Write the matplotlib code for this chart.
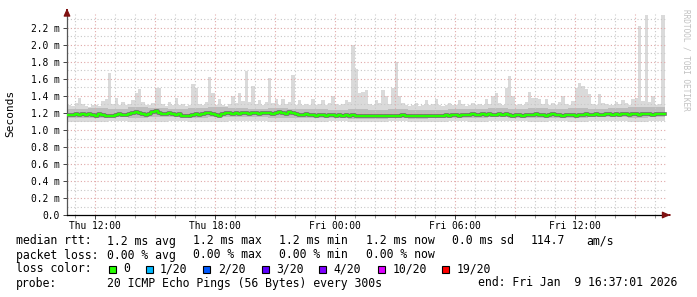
import datetime as dt

import matplotlib
matplotlib.use("Agg")
import matplotlib.dates as mdates
import matplotlib.pyplot as plt
import numpy as np
from matplotlib.patches import Rectangle

# 10 minute bins, Thu 8 Jan 2026 10:40 .. Fri 9 Jan 2026 16:20
start = dt.datetime(2026, 1, 8, 10, 40)
t_begin = dt.datetime(2026, 1, 8, 10, 37, 1)
t_end = dt.datetime(2026, 1, 9, 16, 37, 1)

# highest ping of each bin (ms)
rtt_max = [
    1.30, 1.28, 1.32, 1.38, 1.31, 1.28,
    1.27, 1.29, 1.30, 1.28, 1.34, 1.36,
    1.67, 1.31, 1.38, 1.29, 1.33, 1.30,
    1.31, 1.35, 1.44, 1.48, 1.33, 1.29,
    1.30, 1.32, 1.50, 1.49, 1.31, 1.28,
    1.33, 1.30, 1.38, 1.29, 1.31, 1.28,
    1.30, 1.54, 1.50, 1.31, 1.29, 1.33,
    1.62, 1.44, 1.30, 1.37, 1.29, 1.28,
    1.31, 1.40, 1.32, 1.43, 1.34, 1.69,
    1.33, 1.52, 1.31, 1.35, 1.30, 1.33,
    1.61, 1.32, 1.36, 1.30, 1.37, 1.31,
    1.33, 1.65, 1.30, 1.35, 1.29, 1.31,
    1.30, 1.36, 1.29, 1.31, 1.35, 1.30,
    1.32, 1.40, 1.31, 1.29, 1.31, 1.35,
    1.33, 2.00, 1.72, 1.43, 1.45, 1.47,
    1.31, 1.30, 1.35, 1.32, 1.47, 1.40,
    1.31, 1.50, 1.80, 1.40, 1.32, 1.29,
    1.28, 1.30, 1.32, 1.28, 1.30, 1.35,
    1.29, 1.31, 1.37, 1.30, 1.28, 1.30,
    1.32, 1.29, 1.30, 1.35, 1.31, 1.28,
    1.30, 1.32, 1.29, 1.31, 1.30, 1.36,
    1.31, 1.40, 1.43, 1.32, 1.30, 1.49,
    1.63, 1.40, 1.30, 1.31, 1.29, 1.33,
    1.45, 1.38, 1.38, 1.37, 1.31, 1.37,
    1.30, 1.32, 1.29, 1.33, 1.40, 1.31,
    1.30, 1.34, 1.50, 1.55, 1.52, 1.48,
    1.42, 1.31, 1.30, 1.42, 1.32, 1.31,
    1.30, 1.29, 1.33, 1.31, 1.35, 1.32,
    1.30, 1.37, 1.38, 2.22, 1.34, 2.35,
    1.33, 1.40, 1.30, 1.31, 2.35,
]

# median rtt of each bin (ms)
rtt_median = [
    1.18, 1.18, 1.19, 1.18, 1.19, 1.18,
    1.19, 1.18, 1.17, 1.19, 1.18, 1.17,
    1.16, 1.17, 1.18, 1.19, 1.18, 1.18,
    1.19, 1.20, 1.21, 1.20, 1.19, 1.18,
    1.19, 1.21, 1.22, 1.20, 1.19, 1.19,
    1.20, 1.19, 1.18, 1.19, 1.17, 1.16,
    1.17, 1.18, 1.19, 1.18, 1.19, 1.20,
    1.20, 1.19, 1.18, 1.17, 1.19, 1.20,
    1.20, 1.19, 1.20, 1.19, 1.20, 1.20,
    1.19, 1.20, 1.20, 1.19, 1.20, 1.20,
    1.20, 1.19, 1.20, 1.21, 1.20, 1.19,
    1.21, 1.20, 1.19, 1.18, 1.18, 1.19,
    1.18, 1.18, 1.17, 1.18, 1.18, 1.17,
    1.18, 1.18, 1.17, 1.18, 1.17, 1.18,
    1.17, 1.18, 1.17, 1.17, 1.16, 1.17,
    1.17, 1.16, 1.17, 1.17, 1.16, 1.17,
    1.17, 1.16, 1.17, 1.17, 1.18, 1.17,
    1.16, 1.17, 1.17, 1.16, 1.17, 1.17,
    1.16, 1.17, 1.17, 1.16, 1.17, 1.18,
    1.17, 1.18, 1.18, 1.17, 1.18, 1.18,
    1.18, 1.19, 1.18, 1.18, 1.19, 1.18,
    1.19, 1.18, 1.18, 1.19, 1.18, 1.19,
    1.18, 1.17, 1.18, 1.18, 1.17, 1.18,
    1.18, 1.18, 1.19, 1.18, 1.18, 1.17,
    1.18, 1.19, 1.18, 1.18, 1.17, 1.18,
    1.18, 1.18, 1.17, 1.18, 1.18, 1.19,
    1.18, 1.18, 1.19, 1.18, 1.18, 1.19,
    1.19, 1.18, 1.19, 1.18, 1.19, 1.19,
    1.18, 1.19, 1.19, 1.18, 1.19, 1.19,
    1.19, 1.18, 1.19, 1.19, 1.19,
]

# hourly smoke envelope (ms): lowest ping, inner band low / high
rtt_min = [1.10, 1.10, 1.11, 1.10, 1.10, 1.11, 1.10, 1.10, 1.11, 1.11,
           1.10, 1.10, 1.10, 1.11, 1.10, 1.10, 1.11, 1.10, 1.10, 1.11,
           1.10, 1.11, 1.11, 1.10, 1.11, 1.10, 1.11, 1.11, 1.10, 1.11]
band_lo = [1.14, 1.14, 1.15, 1.14, 1.15, 1.15, 1.14, 1.15, 1.15, 1.15,
           1.14, 1.14, 1.14, 1.14, 1.13, 1.13, 1.14, 1.13, 1.14, 1.14,
           1.14, 1.15, 1.14, 1.14, 1.14, 1.14, 1.15, 1.15, 1.14, 1.15]
band_hi = [1.25, 1.26, 1.25, 1.27, 1.26, 1.25, 1.26, 1.27, 1.26, 1.25,
           1.26, 1.25, 1.25, 1.24, 1.25, 1.24, 1.25, 1.24, 1.24, 1.25,
           1.25, 1.26, 1.25, 1.26, 1.25, 1.26, 1.25, 1.26, 1.27, 1.27]

loss_labels = ["0", "1/20", "2/20", "3/20", "4/20", "10/20", "19/20"]
loss_colors = ["#26ff00", "#00b8ff", "#0059ff", "#5e00ff", "#7e00ff", "#dd00ff", "#ff0000"]

n = len(rtt_max)
times = [start + dt.timedelta(minutes=10 * i) for i in range(n + 1)]
hour_idx = np.arange(n) // 6
lo = np.array(rtt_min)[hour_idx]
blo = np.array(band_lo)[hour_idx]
bhi = np.minimum(np.array(band_hi)[hour_idx], rtt_max)
hi = np.array(rtt_max)
med = np.array(rtt_median)


def close(a):
    # repeat last value so the last step gets full width
    return np.append(a, a[-1])


W, H = 697, 297
mono = "DejaVu Sans Mono"
fig = plt.figure(figsize=(W / 100, H / 100), dpi=100)
ymax = 2.37
ax = fig.add_axes([67 / W, 1 - 215 / H, 600 / W, ymax * 85 / H])

# smoke
ax.fill_between(times, close(lo), close(hi), step="post", color="#dadada", lw=0, zorder=1)
ax.fill_between(times, close(blo), close(bhi), step="post", color="#bdbdbd", lw=0, zorder=1)
ax.step(times, close(med), where="post", color="#6a6a6a", lw=2.6, zorder=3)
ax.step(times, close(med), where="post", color="#26ff00", lw=1.6, zorder=4)

ax.set_xlim(t_begin, t_end)
ax.set_ylim(0, ymax)

# grid
for v in np.arange(0.1, 2.35, 0.1):
    major = abs(v / 0.2 - round(v / 0.2)) < 1e-6
    ax.axhline(v, color="#e0a8a8" if major else "#c8c8c8", lw=0.8,
               ls=(0, (1, 2)), zorder=2)
h = t_begin.replace(minute=0, second=0) + dt.timedelta(hours=1)
while h < t_end:
    ax.axvline(h, color="#e0a8a8" if h.hour % 3 == 0 else "#c8c8c8", lw=0.8,
               ls=(0, (1, 2)), zorder=2)
    h += dt.timedelta(hours=1)

ax.xaxis.set_major_locator(mdates.HourLocator(byhour=[0, 6, 12, 18]))
ax.xaxis.set_major_formatter(mdates.DateFormatter("%a %H:%M"))
ax.xaxis.set_minor_locator(mdates.HourLocator())
ax.set_yticks(np.arange(0, 2.3, 0.2))
ax.set_yticklabels(["0.0"] + [f"{v:.1f} m" for v in np.arange(0.2, 2.3, 0.2)])
ax.tick_params(axis="both", labelsize=6.9, length=3, width=0.7, color="#444444", pad=1)
ax.tick_params(axis="x", which="minor", length=2, width=0.6, color="#888888")
ax.tick_params(axis="y", pad=2)
for lab in ax.get_xticklabels() + ax.get_yticklabels():
    lab.set_fontfamily(mono)
for s in ["top", "right"]:
    ax.spines[s].set_visible(False)
ax.spines["left"].set_color("#555555")
ax.spines["bottom"].set_color("#000000")
ax.spines["left"].set_linewidth(0.9)
ax.spines["bottom"].set_linewidth(0.9)

# axis arrows
ax.annotate("", xy=(0, 1.04), xytext=(0, 1.0), xycoords="axes fraction",
            arrowprops=dict(arrowstyle="-|>,head_length=0.45,head_width=0.2",
                            color="#7f1010", lw=0.9), annotation_clip=False)
ax.annotate("", xy=(1.01, 0), xytext=(1.0, 0), xycoords="axes fraction",
            arrowprops=dict(arrowstyle="-|>,head_length=0.45,head_width=0.2",
                            color="#7f1010", lw=0.9), annotation_clip=False)

fig.text(10 / W, 1 - 113 / H, "Seconds", rotation=90, ha="center", va="center",
         family=mono, fontsize=8)
fig.text(686 / W, 1 - 60 / H, "RRDTOOL / TOBI OETIKER", rotation=270, ha="center",
         va="center", family=mono, fontsize=5.6, color="#c0c0c0")


def put(x, y, s):
    fig.text(x / W, 1 - y / H, s, ha="left", va="center", family=mono, fontsize=8.3)


put(16, 241, "median rtt:")
for x, s in zip([107, 193, 279, 366, 452, 531, 586],
                ["1.2 ms avg", "1.2 ms max", "1.2 ms min", "1.2 ms now",
                 "0.0 ms sd", "114.7", "am/s"]):
    put(x, 241, s)
put(16, 255, "packet loss:")
for x, s in zip([107, 193, 279, 366],
                ["0.00 % avg", "0.00 % max", "0.00 % min", "0.00 % now"]):
    put(x, 255, s)
put(16, 269, "loss color:")
for sx, lx, lab, col in zip([109, 146, 203, 262, 319, 378, 442],
                            [123, 160, 218, 276, 333, 393, 457],
                            loss_labels, loss_colors):
    fig.add_artist(Rectangle((sx / W, 1 - 273 / H), 7 / W, 7 / H, transform=fig.transFigure,
                             facecolor=col, edgecolor="black", lw=0.8))
    put(lx, 269, lab)
put(16, 283, "probe:")
put(107, 283, "20 ICMP Echo Pings (56 Bytes) every 300s")
put(478, 283, "end: Fri Jan  9 16:37:01 2026")

fig.savefig("out.png", dpi=100)
